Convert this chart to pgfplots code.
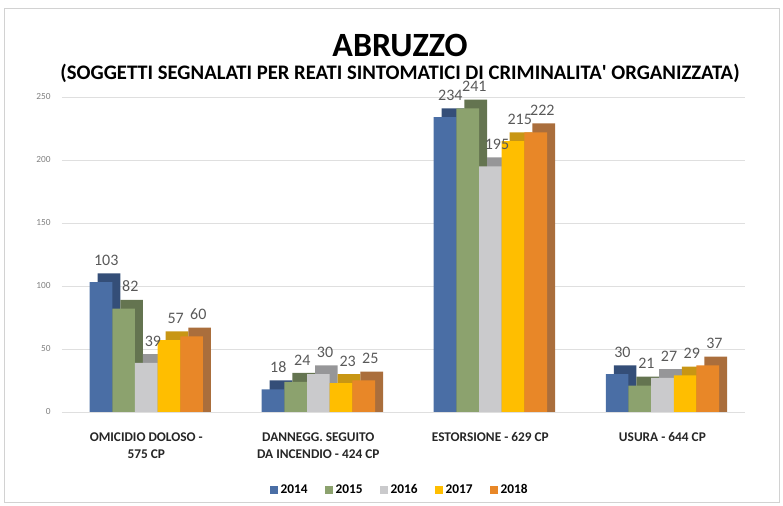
\documentclass[border=0pt]{standalone}
\usepackage{pgfplots}
\pgfplotsset{compat=1.18}
\usepackage{pgfplotstable}
\usepackage{fontspec}
\setmainfont{Carlito}
\definecolor{c14}{RGB}{74,110,165}
\definecolor{c14d}{RGB}{52,78,120}
\definecolor{c15}{RGB}{140,162,110}
\definecolor{c15d}{RGB}{100,116,80}
\definecolor{c16}{RGB}{202,202,204}
\definecolor{c16d}{RGB}{150,150,152}
\definecolor{c17}{RGB}{255,190,0}
\definecolor{c17d}{RGB}{200,150,20}
\definecolor{c18}{RGB}{232,135,40}
\definecolor{c18d}{RGB}{170,110,60}
\pgfplotstableread{
x a b c d e
0 103 82 39 57 60
1 18 24 30 23 25
2 234 241 195 215 222
3 30 21 27 29 37
}\data
\begin{document}
\begin{tikzpicture}
\useasboundingbox (0,0) rectangle (587.25pt,379.5pt);
\draw[gray!35] (3pt,3pt) rectangle (584.25pt,373.5pt);
\node[font=\bfseries\fontsize{25.5}{30}\selectfont] at (300pt,345.75pt) {ABRUZZO};
\node[font=\bfseries\fontsize{15.5}{18}\selectfont] at (300pt,324.75pt) {(SOGGETTI SEGNALATI PER REATI SINTOMATICI DI CRIMINALITA\textquotesingle{} ORGANIZZATA)};
\begin{axis}[
  at={(46.5pt,70.5pt)}, anchor=south west,
  scale only axis, width=512.25pt, height=236.25pt,
  xmin=-0.49, xmax=3.48, ymin=0, ymax=250,
  clip=false,
  axis line style={draw=none},
  major tick length=0pt,
  ytick={0,50,...,250},
  ymajorgrids, grid style={gray!25},
  yticklabel style={font=\fontsize{7}{8}\selectfont, text=gray, xshift=-5pt},
  /pgf/number format/assume math mode=true,
  xtick={0,1,2,3},
  xticklabels={{OMICIDIO DOLOSO -\\575 CP},{DANNEGG. SEGUITO\\DA INCENDIO - 424 CP},{ESTORSIONE - 629 CP},{USURA - 644 CP}},
  xticklabel style={font=\bfseries\fontsize{10}{13}\selectfont, align=center, text=black!85, anchor=north, yshift=-12pt},
  bar width=17pt,
  legend style={at={(0.495,-0.248)}, anchor=center, legend columns=-1, draw=none,
    font=\bfseries\fontsize{10}{12}\selectfont,
    /tikz/every even column/.append style={column sep=11pt}},
  legend image code/.code={\fill[#1] (0pt,-3pt) rectangle (6pt,3pt);},
  every node near coord/.append style={font=\fontsize{12}{14}\selectfont, text=black!65, yshift=9pt, anchor=south},
]
% 2014
\addplot[ybar, bar shift=-28pt, fill=c14d, draw=none, forget plot] table[x=x, y expr=\thisrow{a}+7] {\data};
\addplot[ybar, bar shift=-34pt, fill=c14, draw=none] table[x=x, y=a] {\data};
% 2015
\addplot[ybar, bar shift=-11pt, fill=c15d, draw=none, forget plot] table[x=x, y expr=\thisrow{b}+7] {\data};
\addplot[ybar, bar shift=-17pt, fill=c15, draw=none] table[x=x, y=b] {\data};
% 2016
\addplot[ybar, bar shift=6pt, fill=c16d, draw=none, forget plot] table[x=x, y expr=\thisrow{c}+7] {\data};
\addplot[ybar, bar shift=0pt, fill=c16, draw=none] table[x=x, y=c] {\data};
% 2017
\addplot[ybar, bar shift=23pt, fill=c17d, draw=none, forget plot] table[x=x, y expr=\thisrow{d}+7] {\data};
\addplot[ybar, bar shift=17pt, fill=c17, draw=none] table[x=x, y=d] {\data};
% 2018
\addplot[ybar, bar shift=40pt, fill=c18d, draw=none, forget plot] table[x=x, y expr=\thisrow{e}+7] {\data};
\addplot[ybar, bar shift=34pt, fill=c18, draw=none] table[x=x, y=e] {\data};
% labels
\addplot[draw=none, mark=none, forget plot, nodes near coords, every node near coord/.append style={xshift=-30pt}] table[x=x, y=a] {\data};
\addplot[draw=none, mark=none, forget plot, nodes near coords, every node near coord/.append style={xshift=-12pt}] table[x=x, y=b] {\data};
\addplot[draw=none, mark=none, forget plot, nodes near coords, every node near coord/.append style={xshift=5pt}] table[x=x, y=c] {\data};
\addplot[draw=none, mark=none, forget plot, nodes near coords, every node near coord/.append style={xshift=22pt}] table[x=x, y=d] {\data};
\addplot[draw=none, mark=none, forget plot, nodes near coords, every node near coord/.append style={xshift=39pt}] table[x=x, y=e] {\data};
\legend{2014,2015,2016,2017,2018}
\end{axis}
\end{tikzpicture}
\end{document}
